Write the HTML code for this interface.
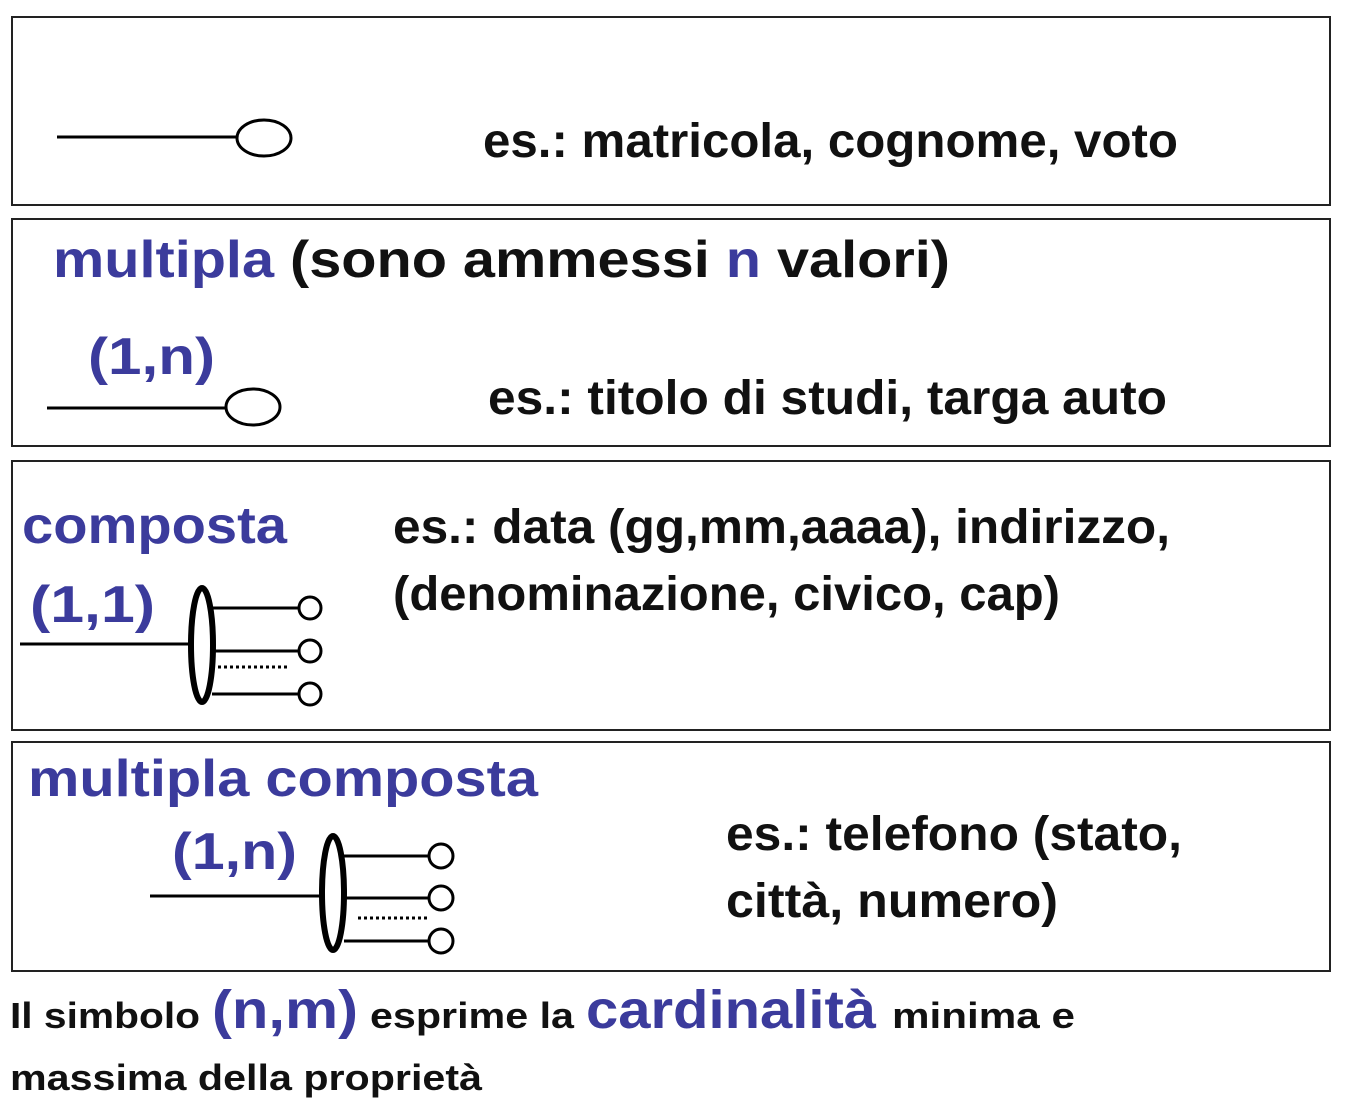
<!DOCTYPE html>
<html><head><meta charset="utf-8"><style>
html,body{margin:0;padding:0;background:#fff;}
svg{display:block;}
text{font-family:"Liberation Sans",sans-serif;font-weight:bold;}
.k{fill:#111;}
.b{fill:#3b3b9c;}
</style></head><body>
<svg width="1364" height="1110" viewBox="0 0 1364 1110" xmlns="http://www.w3.org/2000/svg">
<g fill="none" stroke="#222" stroke-width="2">
<rect x="12" y="17" width="1318" height="188"/>
<rect x="12" y="219" width="1318" height="227"/>
<rect x="12" y="461" width="1318" height="269"/>
<rect x="12" y="742" width="1318" height="229"/>
</g>
<g fill="none" stroke="#000" stroke-width="3">
<line x1="57" y1="137" x2="237" y2="137"/>
<ellipse cx="264" cy="138" rx="27" ry="18"/>
<line x1="47" y1="408" x2="227" y2="408"/>
<ellipse cx="253" cy="407" rx="27" ry="18"/>
<line x1="20" y1="644" x2="190" y2="644"/>
<line x1="212" y1="608" x2="298" y2="608"/>
<line x1="212" y1="651" x2="298" y2="651"/>
<line x1="212" y1="694" x2="298" y2="694"/>
<circle cx="310" cy="608" r="11"/><circle cx="310" cy="651" r="11"/><circle cx="310" cy="694" r="11"/>
<line x1="218" y1="667" x2="290" y2="667" stroke-dasharray="3,3"/>
<ellipse cx="202" cy="645" rx="11" ry="57" stroke-width="6"/>
<line x1="150" y1="896" x2="322" y2="896"/>
<line x1="344" y1="856" x2="429" y2="856"/>
<line x1="344" y1="898" x2="429" y2="898"/>
<line x1="344" y1="941" x2="429" y2="941"/>
<circle cx="441" cy="856" r="12"/><circle cx="441" cy="898" r="12"/><circle cx="441" cy="941" r="12"/>
<line x1="358" y1="918" x2="428" y2="918" stroke-dasharray="3,3"/>
<ellipse cx="333" cy="893" rx="11" ry="57" stroke-width="6"/>
</g>
<text class="k" x="483" y="157" font-size="48" textLength="695" lengthAdjust="spacingAndGlyphs">es.: matricola, cognome, voto</text>
<text x="53" y="277" font-size="52" textLength="897" lengthAdjust="spacingAndGlyphs"><tspan class="b">multipla </tspan><tspan class="k">(sono ammessi </tspan><tspan class="b">n</tspan><tspan class="k"> valori)</tspan></text>
<text class="b" x="88" y="374" font-size="52" textLength="127" lengthAdjust="spacingAndGlyphs">(1,n)</text>
<text class="k" x="488" y="414" font-size="48" textLength="679" lengthAdjust="spacingAndGlyphs">es.: titolo di studi, targa auto</text>
<text class="b" x="22" y="543" font-size="52" textLength="265" lengthAdjust="spacingAndGlyphs">composta</text>
<text class="k" x="393" y="543" font-size="48" textLength="777" lengthAdjust="spacingAndGlyphs">es.: data (gg,mm,aaaa), indirizzo,</text>
<text class="k" x="393" y="610" font-size="48" textLength="667" lengthAdjust="spacingAndGlyphs">(denominazione, civico, cap)</text>
<text class="b" x="30" y="622" font-size="52" textLength="125" lengthAdjust="spacingAndGlyphs">(1,1)</text>
<text class="b" x="28" y="796" font-size="52" textLength="510" lengthAdjust="spacingAndGlyphs">multipla composta</text>
<text class="b" x="172" y="869" font-size="52" textLength="125" lengthAdjust="spacingAndGlyphs">(1,n)</text>
<text class="k" x="726" y="850" font-size="48" textLength="456" lengthAdjust="spacingAndGlyphs">es.: telefono (stato,</text>
<text class="k" x="726" y="917" font-size="48" textLength="332" lengthAdjust="spacingAndGlyphs">città, numero)</text>
<text class="k" x="10" y="1028" font-size="36" textLength="190" lengthAdjust="spacingAndGlyphs">Il simbolo</text>
<text class="b" x="212" y="1028" font-size="54" textLength="146" lengthAdjust="spacingAndGlyphs">(n,m)</text>
<text class="k" x="370" y="1028" font-size="36" textLength="204" lengthAdjust="spacingAndGlyphs">esprime la</text>
<text class="b" x="586" y="1028" font-size="54" textLength="290" lengthAdjust="spacingAndGlyphs">cardinalità</text>
<text class="k" x="892" y="1028" font-size="36" textLength="183" lengthAdjust="spacingAndGlyphs">minima e</text>
<text class="k" x="10" y="1090" font-size="36" textLength="472" lengthAdjust="spacingAndGlyphs">massima della proprietà</text>
</svg>
</body></html>
